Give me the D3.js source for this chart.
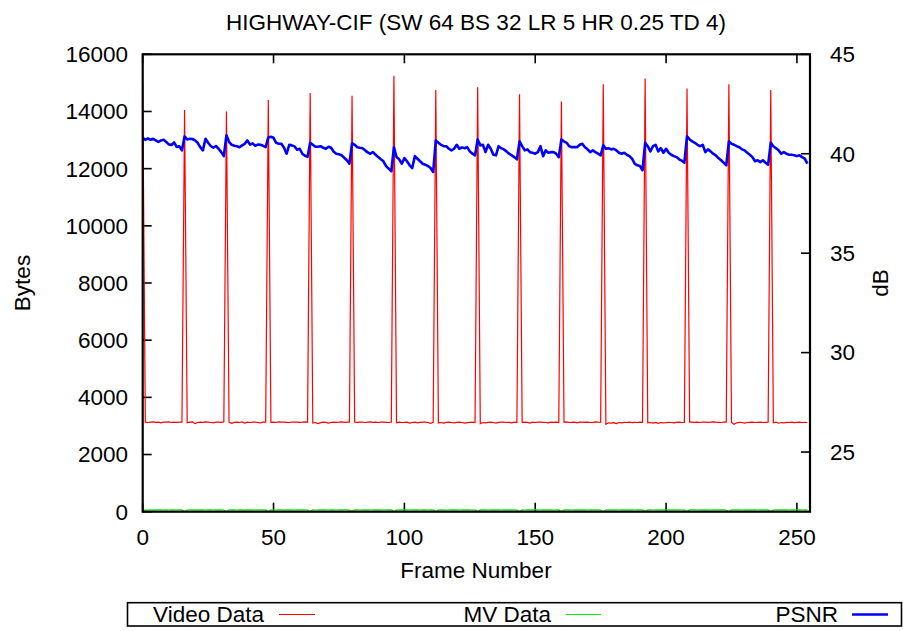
<!DOCTYPE html>
<html><head><meta charset="utf-8">
<script src="https://cdn.jsdelivr.net/npm/d3@7"></script>
<style>
html,body{margin:0;padding:0;background:#fff;}
text{font-family:"Liberation Sans",Arial,sans-serif;fill:#000;}
</style></head>
<body><svg id="c" width="903" height="631"></svg>
<script>
const title = "HIGHWAY-CIF (SW 64 BS 32 LR 5 HR 0.25 TD 4)";
const xTicks = [0,50,100,150,200,250];
const yTicks = [0,2000,4000,6000,8000,10000,12000,14000,16000];
const y2Ticks = [25,30,35,40,45];
const seriesNames = ["Video Data","MV Data","PSNR"];
const seriesColors = ["#ff0000","#00ee00","#0000ff"];

const videoData = [
15000,3130,3120,3135,3140,3125,3130,3110,3135,3130,3140,3120,3130,3125,3135,3130,
14050,3110,3135,3140,3080,3120,3130,3125,3140,3130,3120,3110,3135,3130,3125,3140,
14000,3130,3090,3125,3130,3120,3140,3100,3130,3120,3135,3130,3120,3110,3130,3135,
14400,3125,3130,3120,3140,3130,3130,3125,3120,3130,3135,3130,3125,3130,3140,3130,
14650,3100,3120,3080,3115,3130,3125,3100,3120,3130,3125,3130,3140,3125,3130,3135,
14550,3130,3125,3135,3130,3120,3130,3140,3125,3130,3120,3135,3130,3125,3120,3130,
15250,3110,3130,3120,3125,3135,3100,3120,3130,3110,3125,3135,3130,3120,3090,3125,
14750,3105,3120,3100,3125,3130,3120,3110,3125,3130,3120,3100,3115,3125,3130,3120,
14850,3080,3120,3110,3125,3130,3120,3100,3125,3135,3130,3120,3125,3110,3130,3125,
14600,3120,3130,3125,3100,3130,3120,3135,3130,3125,3120,3110,3130,3125,3130,3120,
14350,3130,3140,3120,3125,3130,3110,3130,3135,3125,3130,3120,3125,3140,3130,3125,
14950,3060,3110,3100,3115,3080,3120,3110,3125,3120,3130,3115,3125,3120,3130,3125,
15150,3110,3120,3100,3125,3090,3120,3110,3115,3125,3120,3110,3125,3130,3120,3125,
14800,3130,3135,3125,3130,3120,3135,3130,3125,3130,3140,3130,3125,3120,3135,3130,
14950,3120,3060,3110,3125,3120,3100,3120,3125,3130,3120,3125,3130,3120,3125,3130,
14750,3110,3130,3095,3120,3105,3125,3120,3130,3115,3125,3130,3120,3125,3120
];
const mvData = [
0,62,60,65,58,63,61,66,60,64,59,62,65,60,63,61,
0,60,64,62,58,66,61,63,60,65,62,59,64,61,63,60,
0,63,61,65,60,62,64,58,63,61,66,60,62,64,61,63,
0,61,63,60,65,62,58,64,61,63,60,66,62,61,64,60,
0,64,60,62,66,61,63,59,62,65,60,63,61,64,62,60,
0,62,65,60,63,61,64,60,62,66,61,63,60,65,62,61,
0,60,63,61,65,62,60,64,61,63,59,62,65,60,63,62,
0,63,61,64,60,62,66,61,63,60,64,62,61,65,60,63,
0,61,64,62,60,65,61,63,62,60,64,61,63,62,65,60,
0,62,60,63,65,61,62,64,60,63,61,65,62,60,64,61,
0,64,61,62,60,63,65,61,62,64,60,63,61,62,65,60,
0,60,63,65,61,62,60,64,63,61,62,65,60,63,61,64,
0,63,62,60,64,61,65,62,60,63,64,61,62,65,60,62,
0,61,63,64,60,62,61,65,63,60,62,64,61,63,62,60,
0,62,64,61,63,60,65,62,61,64,63,60,62,61,65,63,
0,60,62,65,61,63,62,60,64,61,63,62,60,64,61
];
const psnrData = [
40.80,40.70,40.77,40.70,40.75,40.67,40.59,40.67,40.70,40.59,40.47,40.44,40.57,40.34,40.37,40.17,
40.87,40.72,40.75,40.74,40.67,40.55,40.33,40.17,40.75,40.55,40.39,40.30,40.39,40.25,40.08,39.88,
40.93,40.60,40.45,40.40,40.38,40.33,40.42,40.50,40.67,40.46,40.52,40.40,40.46,40.45,40.40,40.33,
40.82,40.85,40.80,40.55,40.50,40.50,40.30,40.00,40.45,40.42,40.37,40.20,40.25,40.00,39.90,39.85,
40.55,40.45,40.35,40.35,40.38,40.30,40.25,40.35,40.30,40.10,40.00,39.97,39.92,39.80,39.67,39.50,
40.53,40.45,40.33,40.30,40.28,40.17,40.07,40.00,40.08,39.95,39.83,39.72,39.62,39.38,39.25,39.12,
40.33,39.83,39.72,39.50,39.78,39.62,39.42,39.28,39.88,39.75,39.62,39.50,39.45,39.38,39.28,39.08,
40.67,40.55,40.45,40.38,40.38,40.25,40.17,40.25,40.45,40.25,40.32,40.28,40.33,40.12,40.00,39.92,
40.72,40.42,40.45,40.08,40.45,40.25,39.95,39.92,40.38,40.28,40.22,40.12,40.00,39.92,39.83,39.72,
40.62,40.38,40.17,40.22,40.08,40.05,40.00,40.08,40.38,39.88,40.17,40.05,40.08,40.08,40.00,39.83,
40.72,40.62,40.55,40.38,40.33,40.33,40.33,40.45,40.50,40.33,40.22,40.08,40.17,40.08,40.00,39.92,
40.42,40.25,40.28,40.22,40.25,40.17,40.05,40.00,40.05,39.95,39.88,39.75,39.50,39.42,39.38,39.17,
40.55,40.38,40.12,40.38,40.45,40.12,40.28,40.05,40.25,40.05,39.95,39.88,39.83,39.72,39.65,39.55,
40.88,40.72,40.62,40.55,40.45,40.38,40.45,40.08,40.22,40.12,40.00,39.92,39.78,39.67,39.55,39.42,
40.62,40.50,40.45,40.38,40.33,40.22,40.17,40.05,39.95,39.83,39.62,39.67,39.58,39.67,39.55,39.45,
40.55,40.38,40.28,40.17,40.00,40.08,40.00,39.95,39.95,39.92,39.88,39.92,39.83,39.75,39.50
];
const frames = videoData.map((d,i)=>i);

const svg = d3.select("#c");
const L=142.7, R=810, T=54.3, B=511.7;
const x = d3.scaleLinear().domain([0,255]).range([L,R]);
const y = d3.scaleLinear().domain([0,16000]).range([B,T]);
const y2 = d3.scaleLinear().domain([22,45]).range([B,T]);
const FS = 22.5;

svg.append("defs").append("clipPath").attr("id","clip")
  .append("rect").attr("x",L).attr("y",T).attr("width",R-L).attr("height",B-T);

// tick marks (inward)
const tickLen = 9;
const gt = svg.append("g").attr("stroke","#000").attr("stroke-width",1.6);
yTicks.forEach(v=>{ gt.append("line").attr("x1",L).attr("x2",L+tickLen).attr("y1",y(v)).attr("y2",y(v)); });
y2Ticks.forEach(v=>{ gt.append("line").attr("x1",R).attr("x2",R-tickLen).attr("y1",y2(v)).attr("y2",y2(v)); });
xTicks.forEach(v=>{
  gt.append("line").attr("x1",x(v)).attr("x2",x(v)).attr("y1",B).attr("y2",B-tickLen);
  gt.append("line").attr("x1",x(v)).attr("x2",x(v)).attr("y1",T).attr("y2",T+tickLen);
});

// tick labels
yTicks.forEach(v=>{ svg.append("text").attr("x",128).attr("y",y(v)).attr("dy","0.35em")
  .attr("text-anchor","end").attr("font-size",FS).text(v); });
y2Ticks.forEach(v=>{ svg.append("text").attr("x",830).attr("y",y2(v)).attr("dy","0.35em")
  .attr("text-anchor","start").attr("font-size",FS).text(v); });
xTicks.forEach(v=>{ svg.append("text").attr("x",x(v)).attr("y",537).attr("dy","0.35em")
  .attr("text-anchor","middle").attr("font-size",FS).text(v); });

// lines
const gl = svg.append("g").attr("clip-path","url(#clip)");
const lineV = d3.line().x((d,i)=>x(frames[i])).y(d=>y(d));
const lineP = d3.line().x((d,i)=>x(frames[i])).y(d=>y2(d));
gl.append("path").datum(videoData).attr("d",lineV).attr("fill","none").attr("stroke",seriesColors[0]).attr("stroke-width",1.2);
gl.append("path").datum(mvData).attr("d",lineV).attr("fill","none").attr("stroke",seriesColors[1]).attr("stroke-width",1.2);
gl.append("path").datum(psnrData).attr("d",lineP).attr("fill","none").attr("stroke",seriesColors[2]).attr("stroke-width",2.6).attr("stroke-linejoin","round");

// border
svg.append("rect").attr("x",L).attr("y",T).attr("width",R-L).attr("height",B-T)
  .attr("fill","none").attr("stroke","#000").attr("stroke-width",2.2);

// titles
svg.append("text").attr("x",476).attr("y",22).attr("dy","0.35em").attr("text-anchor","middle").attr("font-size",FS).text(title);
svg.append("text").attr("x",476).attr("y",570).attr("dy","0.35em").attr("text-anchor","middle").attr("font-size",FS).text("Frame Number");
svg.append("text").attr("transform","translate(22,283) rotate(-90)").attr("dy","0.35em").attr("text-anchor","middle").attr("font-size",FS).text("Bytes");
svg.append("text").attr("transform","translate(880,283) rotate(-90)").attr("dy","0.35em").attr("text-anchor","middle").attr("font-size",FS).text("dB");

// legend
svg.append("rect").attr("x",127.5).attr("y",602.7).attr("width",774).attr("height",23.3)
  .attr("fill","none").attr("stroke","#000").attr("stroke-width",1.6);
const legTextEnd = [264, 551, 838];
const legSample = [[279,315],[566,601],[852,888]];
seriesNames.forEach((n,i)=>{
  svg.append("text").attr("x",legTextEnd[i]).attr("y",614.5).attr("dy","0.35em").attr("text-anchor","end").attr("font-size",FS).text(n);
  svg.append("line").attr("x1",legSample[i][0]).attr("x2",legSample[i][1]).attr("y1",614.5).attr("y2",614.5)
    .attr("stroke",seriesColors[i]).attr("stroke-width", i===2?2.6:1.2);
});
</script></body></html>
